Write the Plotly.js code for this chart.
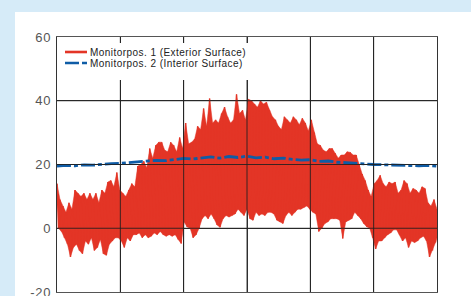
<!DOCTYPE html>
<html>
<head>
<meta charset="utf-8">
<script src="https://cdn.plot.ly/plotly-3.0.1.min.js"></script>
<style>
html,body{margin:0;padding:0;background:#d6ebf8;}
#chart{width:471px;height:296px;}
.annotation-text{letter-spacing:0.45px;}
.ytick text{letter-spacing:0.8px;}
</style>
</head>
<body>
<div id="chart"></div>
<script>
// Series names
const seriesNames = ["Monitorpos. 1 (Exterior Surface)", "Monitorpos. 2 (Interior Surface)"];
// Axis tick values
const yTicks = [-20, 0, 20, 40, 60];
const hoursInYear = 8760;
const xGridCount = 6;

// Exterior surface temperature: upper and lower envelope (successive samples across the year)
const extHigh = [14,9,7,5,8,6,12,11,10,11,9,11,9,11,8,12,11,14.5,15,13,17.5,12,11,10,12,14,13,19.5,20,21,19,25,22,26,27,27,24.5,24,27,26,24,28.5,25,33,26.5,27,28,32,31,37.6,32,40.7,33,34,33,36,38,35,33,34,42,36,37,34,40.5,40,39,38,40,39,39.5,37,35,34,32,31,35,34,33,35,34,32.5,34.5,33,30.5,34,30,26.5,26,24.5,24,25,25,23.5,22,23,23,24,23.8,23,23,20,17,15,12,10,14,15,16.6,14,13,14.5,14,14.5,11,12,15,14,11,12.5,12,11,13,12.5,8,7,9,6];
const extLow = [0,-1,-3,-5,-9,-6,-5,-7,-8,-4,-5,-3,-7,-6,-3.5,-8,-8.5,-5,-4,-3,-3,-4,-6,-3,-4,-2,-2,-1.5,-3,-2,-3,-2.5,-1.5,-2,-1,-2,-2.5,-2,-2.5,-2,-3.5,-4.8,2,0.4,0,-3,-2,0,3,4,3,4.5,3,1,0.3,3,4,3.5,4,4.5,6,5,4,6,3,2.5,5,4,4.5,4,5,5,4.5,2.5,2,1.5,4,5,4,5,6,6,6.5,7,6,5,4.5,-1,0,1.5,2,3,3,3,2.5,-3.2,2,2.5,3,5,4,3,1.5,0.5,0,-3,-6.5,-4,-4,-3,-2,-1.5,-0.5,-0.5,-2,-4,-3,-6,-4,-4.5,-4,-3,-2.5,-4,-9,-7,-4.5,-1.5];
// Interior surface temperature
const intTemp = [19.5,19.7,19.6,19.9,19.8,20.1,20.3,20.4,20.6,20.9,21.0,21.3,21.2,21.6,21.9,21.7,22.1,22.4,22.0,22.5,22.2,22.6,22.1,22.3,21.8,22.0,21.6,21.4,21.5,21.0,21.1,20.7,20.6,20.3,20.2,20.0,19.9,19.8,19.7,19.8,19.6,19.7,19.5];

// Build the exterior trace as alternating high/low samples
const extStep = hoursInYear / (extHigh.length - 1);
const extX = [], extY = [];
for (let i = 0; i < extHigh.length; i++) {
  extX.push(i * extStep); extY.push(extHigh[i]);
  extX.push((i + 0.5) * extStep); extY.push(extLow[i]);
}
// Band polygon: highs forward, lows backward
const bandX = [], bandY = [];
for (let i = 0; i < extHigh.length; i++) { bandX.push(i * extStep); bandY.push(extHigh[i]); }
for (let i = extLow.length - 1; i >= 0; i--) { bandX.push((i + 0.5) * extStep); bandY.push(extLow[i]); }

const intStep = hoursInYear / (intTemp.length - 1);
const intX = intTemp.map((_, i) => i * intStep);

const red = '#e33526', blue = '#0f5ca6';
const font = 'Liberation Sans, Arial, sans-serif';
const gridCol = 'rgba(30,30,30,0.85)';

const traces = [
  {x: bandX, y: bandY, type: 'scatter', mode: 'lines', fill: 'toself', fillcolor: red,
   line: {color: red, width: 0.5}, showlegend: false, hoverinfo: 'skip'},
  {x: extX, y: extY, type: 'scatter', mode: 'lines', name: seriesNames[0],
   line: {color: red, width: 1.4}, showlegend: false, hoverinfo: 'skip'},
  {x: intX, y: intTemp, type: 'scatter', mode: 'lines', name: seriesNames[1],
   line: {color: blue, width: 2.8, dash: '14px,3px,4px,3px'}, showlegend: false, hoverinfo: 'skip'}
];

// pixel helpers for the custom legend (plot area 57..437 x, 37..292 y)
const px = v => (v - 57) / 380;
const py = v => (292 - v) / 255;

// gridlines drawn above the data (as in the reference)
const gridShapes = [];
for (let k = 1; k < xGridCount; k++) {
  gridShapes.push({type: 'line', xref: 'x', yref: 'paper', x0: k * hoursInYear / xGridCount, x1: k * hoursInYear / xGridCount,
                   y0: 0, y1: 1, line: {color: gridCol, width: 1}, layer: 'above'});
}
[0, 20, 40].forEach(v => gridShapes.push({type: 'line', xref: 'paper', yref: 'y', x0: 0, x1: 1, y0: v, y1: v,
                   line: {color: gridCol, width: 1}, layer: 'above'}));

const layout = {
  width: 471, height: 296,
  margin: {l: 57, r: 34, t: 37, b: 4, pad: 0},
  paper_bgcolor: '#d6ebf8',
  plot_bgcolor: '#ffffff',
  showlegend: false,
  xaxis: {range: [0, hoursInYear], dtick: hoursInYear / xGridCount, tick0: 0, showticklabels: false,
          showgrid: true, gridcolor: '#3a3a3a', gridwidth: 1, zeroline: false,
          showline: true, mirror: true, linecolor: '#555', linewidth: 1, ticks: '', fixedrange: true},
  yaxis: {range: [-20, 60], tickvals: yTicks, ticktext: yTicks.map(String),
          showgrid: true, gridcolor: '#3a3a3a', gridwidth: 1, zeroline: false,
          showline: true, mirror: true, linecolor: '#333', linewidth: 1,
          ticks: 'outside', ticklen: 2, tickcolor: 'rgba(0,0,0,0)', ticklabeloverflow: 'allow',
          tickfont: {family: font, size: 13, color: '#555'}, fixedrange: true},
  shapes: [
    {type: 'rect', xref: 'paper', yref: 'paper', x0: px(15), x1: px(480), y0: py(12), y1: py(310),
     fillcolor: '#ffffff', line: {width: 0}, layer: 'below'}
  ].concat(gridShapes).concat([
    {type: 'rect', xref: 'paper', yref: 'paper', x0: px(57.5), x1: px(250), y0: py(80), y1: py(43),
     fillcolor: '#ffffff', line: {width: 0}, layer: 'above'},
    {type: 'line', xref: 'paper', yref: 'paper', x0: px(65), x1: px(87), y0: py(52), y1: py(52),
     line: {color: red, width: 2.6}, layer: 'above'},
    {type: 'line', xref: 'paper', yref: 'paper', x0: px(65), x1: px(87), y0: py(63), y1: py(63),
     line: {color: blue, width: 2.6, dash: '14px,3px,5px,3px'}, layer: 'above'}
  ]),
  annotations: [
    {xref: 'paper', yref: 'paper', x: px(88), y: py(52), xanchor: 'left', yanchor: 'middle',
     text: seriesNames[0], showarrow: false, font: {family: font, size: 10, color: '#222'}},
    {xref: 'paper', yref: 'paper', x: px(88), y: py(63.5), xanchor: 'left', yanchor: 'middle',
     text: seriesNames[1], showarrow: false, font: {family: font, size: 10, color: '#222'}}
  ]
};

Plotly.newPlot('chart', traces, layout, {staticPlot: true, displayModeBar: false});
</script>
</body>
</html>
